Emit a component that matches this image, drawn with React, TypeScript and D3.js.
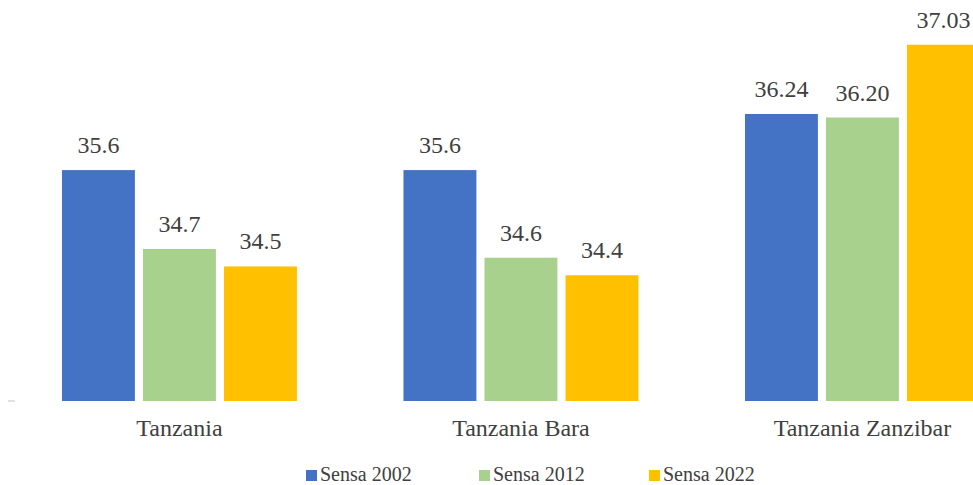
import React from "react";
import * as d3 from "d3";

const categories = ["Tanzania", "Tanzania Bara", "Tanzania Zanzibar"];
const seriesNames = ["Sensa 2002", "Sensa 2012", "Sensa 2022"];
const sensa2002 = [35.6, 35.6, 36.24];
const sensa2012 = [34.7, 34.6, 36.2];
const sensa2022 = [34.5, 34.4, 37.03];
const labelDecimals = [1, 1, 2];
const colors = ["#4472C4", "#A9D18E", "#FFC000"];

const W = 973;
const H = 485;
const FONT = "'Liberation Serif', 'Times New Roman', serif";
const TEXT = "#404040";

export default function App() {
  const seriesValues = [sensa2002, sensa2012, sensa2022];
  const yMin = 32.965;
  const y = d3.scaleLinear().domain([yMin, 37.518]).range([401, 2]);
  const x0 = d3
    .scaleBand<string>()
    .domain(categories)
    .range([8.7, 1033.2])
    .paddingInner(0.312)
    .paddingOuter(0.156);
  const x1 = d3
    .scaleBand<string>()
    .domain(seriesNames)
    .range([0, x0.bandwidth()])
    .paddingInner(0.1)
    .paddingOuter(0);

  const legendX = [306, 479, 649];

  return (
    <svg
      width={W}
      height={H}
      style={{ position: "absolute", left: 0, top: 0, background: "#fff", fontFamily: FONT }}
    >
      <rect x={0} y={0} width={W} height={H} fill="#fff" />
      <line x1={8} x2={15} y1={y(yMin)} y2={y(yMin)} stroke="#d9d9d9" strokeWidth={1.5} />
      {categories.map((c, ci) => (
        <g key={c} transform={`translate(${x0(c)},0)`}>
          {seriesNames.map((s, si) => {
            const v = seriesValues[si][ci];
            const bx = x1(s)!;
            return (
              <g key={s}>
                <rect
                  x={bx}
                  y={y(v)}
                  width={x1.bandwidth()}
                  height={y(yMin) - y(v)}
                  fill={colors[si]}
                />
                <text
                  x={bx + x1.bandwidth() / 2}
                  y={y(v) - 17}
                  textAnchor="middle"
                  fontSize={24}
                  fill={TEXT}
                  style={{ fontFamily: FONT }}
                >
                  {v.toFixed(labelDecimals[ci])}
                </text>
              </g>
            );
          })}
          <text
            x={x0.bandwidth() / 2}
            y={436}
            textAnchor="middle"
            fontSize={24}
            fill={TEXT}
            style={{ fontFamily: FONT }}
          >
            {c}
          </text>
        </g>
      ))}
      {seriesNames.map((s, si) => (
        <g key={s} transform={`translate(${legendX[si]},0)`}>
          <rect x={0} y={470} width={11} height={11} fill={colors[si]} />
          <text x={14} y={481} fontSize={20} fill={TEXT} style={{ fontFamily: FONT }}>
            {s}
          </text>
        </g>
      ))}
    </svg>
  );
}
